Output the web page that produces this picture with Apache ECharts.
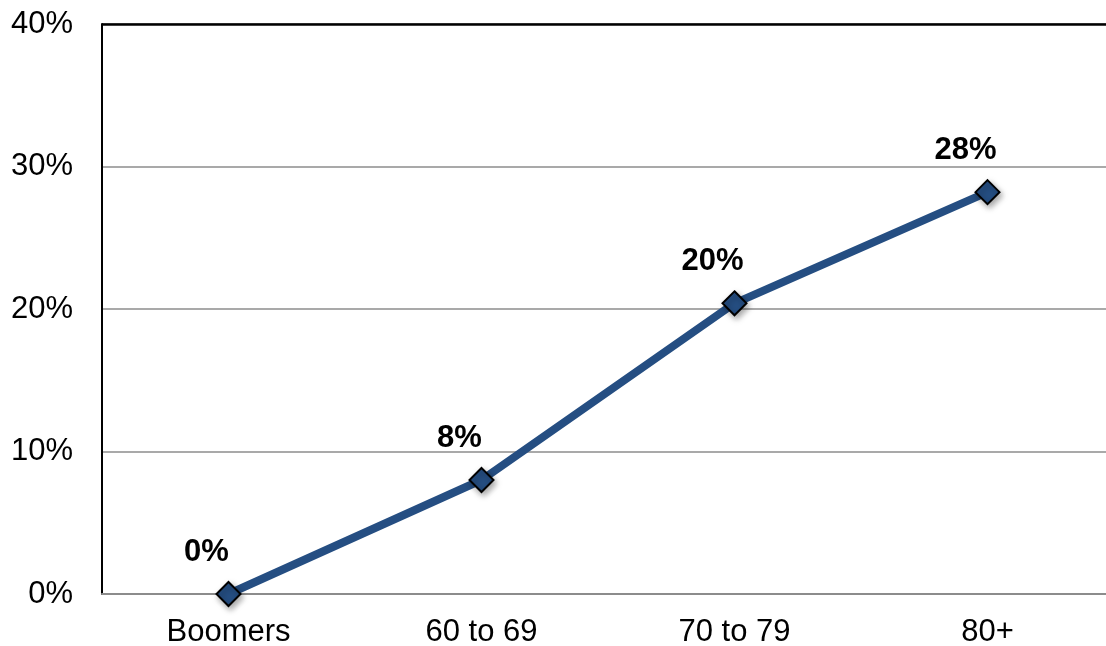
<!DOCTYPE html>
<html>
<head>
<meta charset="utf-8">
<script src="https://cdn.jsdelivr.net/npm/echarts@6/dist/echarts.min.js"></script>
<style>
  html, body { margin: 0; padding: 0; background: #fff; overflow: hidden; }
  #chart { width: 1106px; height: 646px; }
</style>
</head>
<body>
<div id="chart"></div>
<script>
// data
var categories = ["Boomers", "60 to 69", "70 to 79", "80+"];
var values = [0, 8, 20.4, 28.2];
var labels = ["0%", "8%", "20%", "28%"];

var myChart = echarts.init(document.getElementById("chart"));
myChart.setOption({
  animation: false,
  textStyle: { fontFamily: "Liberation Sans, Arial, sans-serif" },
  grid: {
    left: 102, width: 1012, top: 24, bottom: 52,
    outerBoundsMode: "none",
    containLabel: false,
    show: false
  },
  xAxis: {
    type: "category",
    data: categories,
    boundaryGap: true,
    axisLine: { lineStyle: { color: "#8c8c8c", width: 2 } },
    axisTick: { show: false },
    axisLabel: { color: "#000", fontSize: 31, margin: 23 }
  },
  yAxis: {
    type: "value",
    min: 0, max: 40, interval: 10,
    axisLine: { show: true, lineStyle: { color: "#000", width: 2 } },
    axisTick: { show: false },
    axisLabel: { color: "#000", fontSize: 31, margin: 29, formatter: "{value}%" },
    splitLine: { lineStyle: { color: "#8c8c8c", width: 1.5 } }
  },
  series: [
    {
      type: "line",
      data: values,
      symbol: "diamond",
      symbolSize: 24,
      lineStyle: { color: "#254e82", width: 8 },
      itemStyle: {
        color: "#254e82", borderColor: "#000", borderWidth: 2,
        shadowColor: "rgba(0,0,0,0.35)", shadowBlur: 6, shadowOffsetX: 2, shadowOffsetY: 3
      },
      label: {
        show: true,
        position: "top",
        offset: [-22, -8],
        fontSize: 31,
        fontWeight: "bold",
        color: "#000",
        formatter: function (p) { return labels[p.dataIndex]; }
      },
      // top border of the plot area (black line at 40%)
      markLine: {
        silent: true,
        symbol: "none",
        label: { show: false },
        lineStyle: { color: "#000", width: 2.5, type: "solid" },
        data: [{ yAxis: 40 }]
      }
    }
  ]
});
</script>
</body>
</html>
